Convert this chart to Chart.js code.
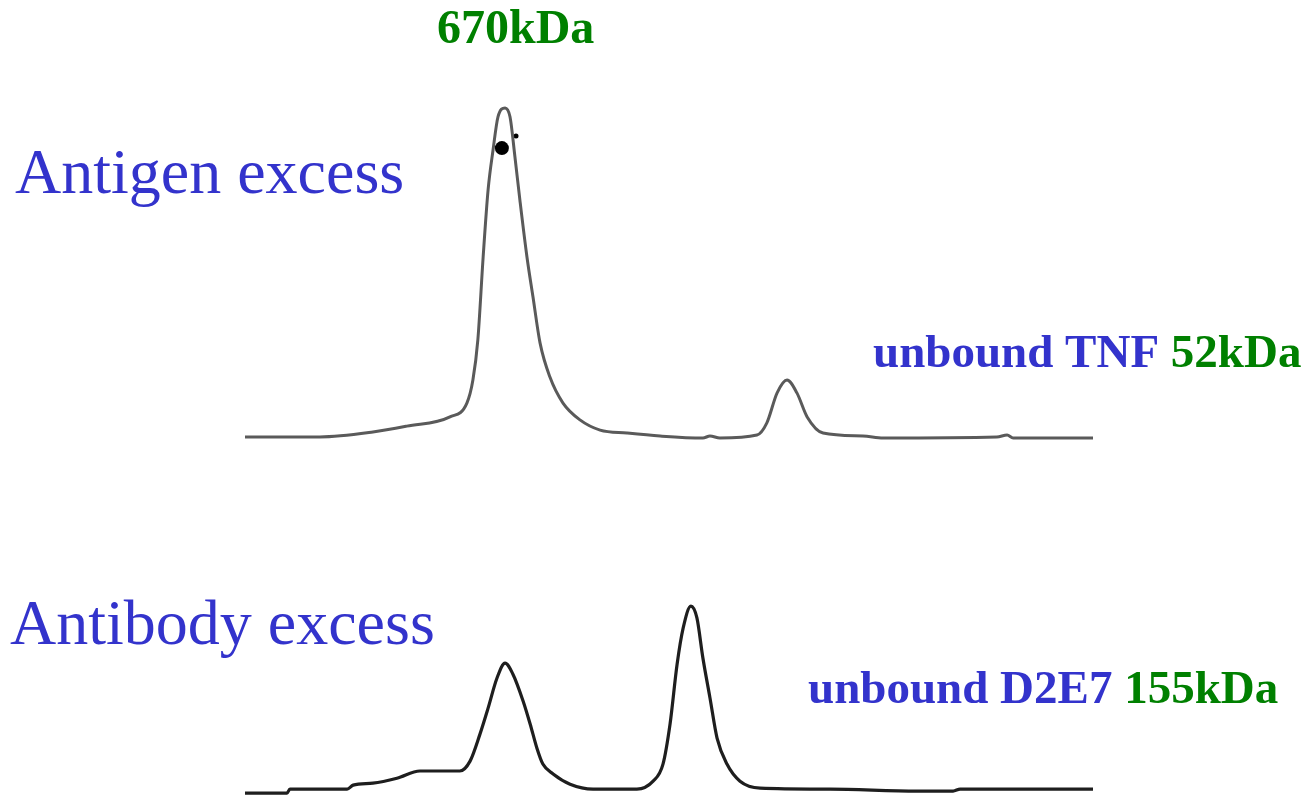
<!DOCTYPE html>
<html>
<head>
<meta charset="utf-8">
<title>SEC profiles: Antigen excess vs Antibody excess</title>
<script src="https://cdn.jsdelivr.net/npm/chart.js@4/dist/chart.umd.min.js"></script>
<style>
  html, body { margin: 0; padding: 0; background: #ffffff; }
  #wrap { position: relative; width: 1312px; height: 796px; }
  canvas { display: block; }
</style>
</head>
<body>
<div id="wrap"><canvas id="sec" width="1312" height="796"></canvas></div>
<script>
// Elution volume (mL) and relative absorbance, antigen-excess run
const antigenVolume = [0.00, 2.12, 3.62, 4.58, 5.80, 6.28, 6.45, 6.59, 6.74, 6.88, 7.02, 7.16, 7.36, 7.50, 7.64, 7.78, 7.98, 8.15, 8.35, 8.63, 9.00, 9.48, 10.05, 10.81, 11.75, 12.96, 13.16, 13.44, 14.49, 14.77, 15.06, 15.34, 15.62, 15.91, 16.36, 17.49, 18.06, 21.28, 21.57, 21.74, 24.00];
const antigenSignal = [0.0, 0.0, 1.5, 3.3, 6.1, 10.3, 17.3, 29.5, 54.7, 75.1, 87.2, 97.3, 100.0, 97.3, 85.1, 72.0, 54.7, 42.6, 28.6, 18.2, 10.3, 5.2, 2.1, 1.2, 0.3, -0.3, 0.3, -0.3, 0.6, 4.3, 13.4, 17.3, 13.4, 6.1, 1.2, 0.3, -0.3, 0.0, 0.6, -0.3, -0.3];

// Elution volume (mL) and relative absorbance, antibody-excess run
const antibodyVolume = [0.00, 1.19, 1.27, 2.89, 3.06, 3.62, 4.30, 4.95, 6.08, 6.37, 6.65, 6.88, 7.13, 7.36, 7.58, 7.87, 8.07, 8.26, 8.43, 8.72, 9.20, 9.85, 11.09, 11.55, 11.83, 12.03, 12.23, 12.40, 12.62, 12.79, 12.96, 13.16, 13.36, 13.64, 14.01, 14.58, 16.56, 19.02, 20.04, 20.24, 24.00];
const antibodySignal = [-0.9, -0.9, 0.3, 0.3, 1.5, 2.1, 3.6, 5.8, 5.8, 8.8, 17.0, 24.9, 34.0, 38.6, 35.3, 27.1, 20.1, 12.8, 7.9, 4.9, 1.8, 0.3, 0.3, 2.7, 7.9, 20.1, 38.3, 49.2, 55.9, 52.3, 40.1, 28.0, 15.8, 7.9, 2.7, 0.6, 0.3, -0.3, -0.3, 0.3, 0.3];

// Fraction marks on the antigen-excess main peak
const markVolume = [7.27, 7.67];
const markSignal = [87.8, 91.5];
const markSize = [7, 2.5];

// Annotation texts
const runLabels = ["Antigen excess", "Antibody excess"];
const complexLabel = "670kDa";
const freeSpecies = ["unbound TNF", "unbound D2E7"];
const freeMass = ["52kDa", "155kDa"];

const toPoints = (xs, ys) => xs.map((x, i) => ({ x: x, y: ys[i] }));

const BLUE = "#3333cc";
const GREEN = "#008000";
const SERIF = '"Liberation Serif", "Times New Roman", serif';

// Draws the run names and species annotations over the traces
const annotations = {
  id: "annotations",
  afterDatasetsDraw(chart) {
    const ctx = chart.ctx;
    ctx.save();
    ctx.textBaseline = "alphabetic";
    ctx.textAlign = "left";

    ctx.fillStyle = BLUE;
    ctx.font = "64px " + SERIF;
    ctx.fillText(runLabels[0], 15, 193);
    ctx.fillText(runLabels[1], 10, 644);

    ctx.fillStyle = GREEN;
    ctx.font = "bold 48px " + SERIF;
    ctx.fillText(complexLabel, 437, 43);

    const pairs = [
      { x: 873, y: 367, species: freeSpecies[0], mass: freeMass[0] },
      { x: 808, y: 703, species: freeSpecies[1], mass: freeMass[1] }
    ];
    pairs.forEach(p => {
      ctx.font = "bold 47px " + SERIF;
      ctx.fillStyle = BLUE;
      const head = p.species + " ";
      ctx.fillText(head, p.x, p.y);
      const w = ctx.measureText(head).width;
      ctx.fillStyle = GREEN;
      ctx.fillText(p.mass, p.x + w, p.y);
    });
    ctx.restore();
  }
};

new Chart(document.getElementById("sec"), {
  type: "line",
  data: {
    datasets: [
      {
        label: runLabels[0],
        data: toPoints(antigenVolume, antigenSignal),
        yAxisID: "yTop",
        borderColor: "#5a5a5a",
        borderWidth: 3,
        pointRadius: 0,
        cubicInterpolationMode: "monotone",
        fill: false
      },
      {
        label: runLabels[1],
        data: toPoints(antibodyVolume, antibodySignal),
        yAxisID: "yBottom",
        borderColor: "#1e1e1e",
        borderWidth: 3.2,
        pointRadius: 0,
        cubicInterpolationMode: "monotone",
        fill: false
      },
      {
        label: "marks",
        type: "scatter",
        data: toPoints(markVolume, markSignal),
        yAxisID: "yTop",
        pointRadius: markSize,
        pointBackgroundColor: "#000000",
        pointBorderWidth: 0,
        showLine: false
      }
    ]
  },
  options: {
    responsive: false,
    animation: false,
    events: [],
    layout: { autoPadding: false, padding: { left: 245, right: 219, top: 0, bottom: 0 } },
    plugins: { legend: { display: false }, tooltip: { enabled: false } },
    scales: {
      x: { type: "linear", display: false, min: 0, max: 24 },
      yTop: { type: "linear", display: false, min: -109.1, max: 132.8 },
      yBottom: { type: "linear", display: false, min: -1.8, max: 240.1 }
    }
  },
  plugins: [annotations]
});
</script>
</body>
</html>
